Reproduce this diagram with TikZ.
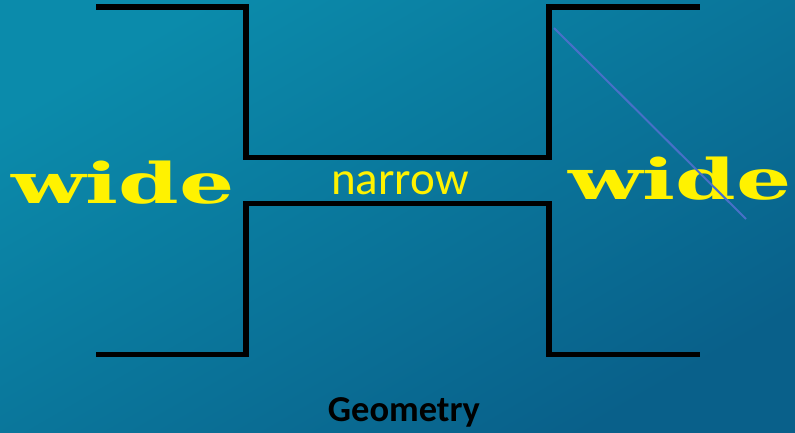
\documentclass[tikz,border=0pt]{standalone}
\usepackage{fontspec}
\usepackage{xcolor}
\usetikzlibrary{positioning}
\newfontfamily\widefont{DejaVu Serif}
\newfontfamily\calfont{Carlito}
\definecolor{bgtop}{RGB}{11,139,171}
\definecolor{bgbot}{RGB}{9,96,138}
\definecolor{diagblue}{RGB}{72,112,200}

\begin{document}
\begin{tikzpicture}[
  x=1pt, y=-1pt,
  wall/.style={draw=black, line width=5.5pt, line join=miter},
  widelbl/.style={inner sep=0pt, anchor=base, text=yellow,
                  font=\widefont\bfseries\fontsize{56}{60}\selectfont},
  narrowlbl/.style={inner sep=0pt, anchor=base, text=yellow,
                    font=\calfont\fontsize{47}{52}\selectfont},
  caption/.style={inner sep=0pt, anchor=base, text=black,
                  font=\calfont\bfseries\fontsize{36.5}{40}\selectfont},
]

% --- Background ---
\useasboundingbox (0,0) rectangle (795,432);
\shade[top color=bgtop, bottom color=bgbot, shading angle=30]
  (0,0) rectangle (795,432);

% --- Channel corners ---
\coordinate (tl) at (96,7);
\coordinate (tlk) at (246,7);
\coordinate (nlt) at (246,157.5);
\coordinate (nrt) at (549,157.5);
\coordinate (trk) at (549,7);
\coordinate (tr) at (700,7);
\coordinate (bl) at (96,354.5);
\coordinate (blk) at (246,354.5);
\coordinate (nlb) at (246,203.5);
\coordinate (nrb) at (549,203.5);
\coordinate (brk) at (549,354.5);
\coordinate (br) at (700,354.5);

% --- Walls ---
\draw[wall] (tl) -- (tlk) -- (nlt) -- (nrt) -- (trk) -- (tr);
\draw[wall] (bl) -- (blk) -- (nlb) -- (nrb) -- (brk) -- (br);

% --- Labels ---
\node[widelbl] (wideL) at (123,203) {\scalebox{1.55}[1]{wide}};
\node[widelbl] (wideR) at (680,199) {\scalebox{1.55}[1]{wide}};
\node[narrowlbl] (narrow) at (400,194.5) {narrow};
\node[caption] (geom) at (404,421) {Geometry};

% --- Diagonal stroke ---
\coordinate (ds) at (554,28);
\coordinate (de) at (746,219);
\draw[diagblue, line width=2pt] (ds) -- (de);

\end{tikzpicture}
\end{document}
